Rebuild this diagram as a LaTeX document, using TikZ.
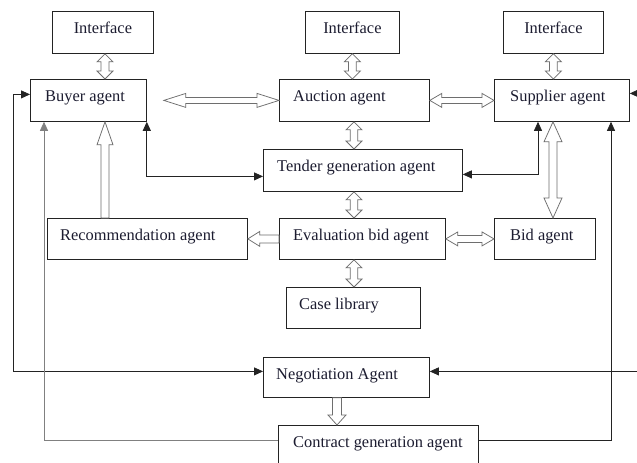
\documentclass[tikz,border=0pt]{standalone}
\usepackage{fontspec}
\setmainfont{Liberation Serif}
\usetikzlibrary{calc,arrows.meta}
\definecolor{txt}{RGB}{28,28,48}
\definecolor{edge}{RGB}{35,35,35}
\definecolor{hedge}{RGB}{110,110,110}
\newcommand\hvdouble[5]{%
 \path[harrow] let \p1=(#1), \p2=(#2) in
 (\x1,\y1) -- (\x1+#4,\y1-#3) -- (\x1+#5,\y1-#3) -- (\x1+#5,\y2+#3) -- (\x1+#4,\y2+#3) -- (\x1,\y2)
 -- (\x1-#4,\y2+#3) -- (\x1-#5,\y2+#3) -- (\x1-#5,\y1-#3) -- (\x1-#4,\y1-#3) -- cycle;}
\newcommand\hhdouble[5]{%
 \path[harrow] let \p1=(#1), \p2=(#2) in
 (\x1,\y1) -- (\x1+#3,\y1+#4) -- (\x1+#3,\y1+#5) -- (\x2-#3,\y1+#5) -- (\x2-#3,\y1+#4) -- (\x2,\y1)
 -- (\x2-#3,\y1-#4) -- (\x2-#3,\y1-#5) -- (\x1+#3,\y1-#5) -- (\x1+#3,\y1-#4) -- cycle;}
\newcommand\hvup[5]{%
 \path[harrow] let \p1=(#1), \p2=(#2) in
 (\x2,\y2) -- (\x2+#4,\y2-#3) -- (\x2+#5,\y2-#3) -- (\x2+#5,\y1) -- (\x2-#5,\y1) -- (\x2-#5,\y2-#3) -- (\x2-#4,\y2-#3) -- cycle;}
\newcommand\hvdown[5]{%
 \path[harrow] let \p1=(#1), \p2=(#2) in
 (\x2,\y2) -- (\x2+#4,\y2+#3) -- (\x2+#5,\y2+#3) -- (\x2+#5,\y1) -- (\x2-#5,\y1) -- (\x2-#5,\y2+#3) -- (\x2-#4,\y2+#3) -- cycle;}
\newcommand\hhleft[5]{%
 \path[harrow] let \p1=(#1), \p2=(#2) in
 (\x2,\y2) -- (\x2+#3,\y2+#4) -- (\x2+#3,\y2+#5) -- (\x1,\y2+#5) -- (\x1,\y2-#5) -- (\x2+#3,\y2-#5) -- (\x2+#3,\y2-#4) -- cycle;}
\tikzset{
 box/.style={draw=edge, line width=0.8pt, inner sep=0pt, anchor=north west, fill=white},
 lbl/.style={text=txt, inner sep=0pt, font=\fontsize{16.4}{19}\selectfont},
 harrow/.style={draw=hedge, fill=white, line width=0.75pt, line join=miter},
 conn/.style={draw=edge, line width=0.8pt, >={Triangle[length=9pt,width=8pt]}},
 connl/.style={draw=gray, line width=0.8pt, >={Triangle[length=9pt,width=8pt]}}
}
\begin{document}
\begin{tikzpicture}[x=1pt,y=-1pt]
\clip (0,0) rectangle (637,463);
\fill[white] (0,0) rectangle (637,463);
% boxes
\node[box, minimum width=101pt, minimum height=42pt] (if1) at (52,11) {};
\node[box, minimum width=94pt, minimum height=42pt] (if2) at (305,11) {};
\node[box, minimum width=100pt, minimum height=42pt] (if3) at (503,11) {};
\node[box, minimum width=116pt, minimum height=42pt] (buyer) at (30,79) {};
\node[box, minimum width=150pt, minimum height=42pt] (auction) at (279,79) {};
\node[box, minimum width=135pt, minimum height=42pt] (sup) at (494,79) {};
\node[box, minimum width=199pt, minimum height=42pt] (tender) at (263,149) {};
\node[box, minimum width=166pt, minimum height=41pt] (eval) at (279,218) {};
\node[box, minimum width=200pt, minimum height=41pt] (rec) at (47,218) {};
\node[box, minimum width=101pt, minimum height=41pt] (bid) at (494,218) {};
\node[box, minimum width=134pt, minimum height=41pt] (case) at (286,287) {};
\node[box, minimum width=166pt, minimum height=40pt] (neg) at (263,357) {};
\node[box, minimum width=200pt, minimum height=45pt] (contract) at (278,425) {};
% labels
\node[lbl, anchor=base] (if1t) at ($(if1.north)+(0,22)$) {Interface};
\node[lbl, anchor=base] (if2t) at ($(if2.north)+(0,22)$) {Interface};
\node[lbl, anchor=base] (if3t) at ($(if3.north)+(0,22)$) {Interface};
\node[lbl, anchor=base west] (buyert) at ($(buyer.north west)+(15,22.5)$) {Buyer agent};
\node[lbl, anchor=base west] (auctiont) at ($(auction.north west)+(14,22.5)$) {Auction agent};
\node[lbl, anchor=base west] (supt) at ($(sup.north west)+(16,22.5)$) {Supplier agent};
\node[lbl, anchor=base west] (tendert) at ($(tender.north west)+(14,22.5)$) {Tender generation agent};
\node[lbl, anchor=base west] (evalt) at ($(eval.north west)+(14,22.5)$) {Evaluation bid agent};
\node[lbl, anchor=base west] (rect) at ($(rec.north west)+(13,22.5)$) {Recommendation agent};
\node[lbl, anchor=base west] (bidt) at ($(bid.north west)+(16,22.5)$) {Bid agent};
\node[lbl, anchor=base west] (caset) at ($(case.north west)+(13,22.5)$) {Case library};
\node[lbl, anchor=base west] (negt) at ($(neg.north west)+(13,22.5)$) {Negotiation Agent};
\node[lbl, anchor=base west] (contractt) at ($(contract.north west)+(15,22)$) {Contract generation agent};
% anchor points of hollow arrows
\coordinate (a1t) at ($(if1.south west)+(53,0)$);
\coordinate (a1b) at (a1t |- buyer.north);
\coordinate (a2t) at (if2.south);
\coordinate (a2b) at (a2t |- auction.north);
\coordinate (a3t) at (if3.south);
\coordinate (a3b) at (a3t |- sup.north);
\coordinate (c1) at ($(auction.south west)+(75,0)$);
\coordinate (c2) at (c1 |- tender.north);
\coordinate (c3) at (c1 |- tender.south);
\coordinate (c4) at (c1 |- eval.north);
\coordinate (c5) at (c1 |- eval.south);
\coordinate (c6) at (c1 |- case.north);
\coordinate (ba) at ($(buyer.east)+(17,0)$);
\coordinate (r1) at ($(rec.north west)+(58,0)$);
\coordinate (r2) at (r1 |- buyer.south);
\coordinate (s1) at ($(sup.south west)+(59,0)$);
\coordinate (s2) at (s1 |- bid.north);
\coordinate (n1) at ($(neg.south west)+(74,0)$);
\coordinate (n2) at (n1 |- contract.north);
% hollow arrows
\hvdouble{a1t}{a1b}{8pt}{8pt}{4pt}
\hvdouble{a2t}{a2b}{8pt}{8pt}{3.8pt}
\hvdouble{a3t}{a3b}{8pt}{8pt}{3.8pt}
\hvdouble{c1}{c2}{8pt}{8pt}{3.8pt}
\hvdouble{c3}{c4}{8pt}{8pt}{3.8pt}
\hvdouble{c5}{c6}{8pt}{8pt}{3.8pt}
\hhdouble{ba}{auction.west}{22pt}{7pt}{3pt}
\hhdouble{auction.east}{sup.west}{12pt}{7pt}{3pt}
\hhdouble{eval.east}{bid.west}{12pt}{7pt}{3.5pt}
\hhleft{eval.west}{rec.east}{12pt}{7.5pt}{4pt}
\hvup{r1}{r2}{23pt}{8pt}{4pt}
\hvdouble{s1}{s2}{20pt}{9pt}{4pt}
\hvdown{n1}{n2}{10pt}{9pt}{4.5pt}
% black connectors
\draw[conn, <->] (buyer.south east) |- ($(tender.west)+(0,6)$);
\draw[conn, <->] ($(sup.south west)+(44,0)$) |- ($(tender.east)+(0,4)$);
\draw[conn, <->] ($(buyer.west)+(0,-6)$) -- ++(-17,0) |- ($(neg.west)+(0,-6)$);
\draw[connl, <-] ($(buyer.south west)+(14,0)$) |- ($(contract.west)+(0,-8)$);
\draw[conn, <-] ($(sup.south west)+(117,0)$) |- ($(contract.east)+(0,-8)$);
\coordinate (rsup) at ($(sup.east)+(20,-7)$);
\coordinate (rneg) at ($(neg.east)+(220,-6)$);
\draw[conn, ->] (rsup) -- ($(sup.east)+(0,-7)$);
\draw[conn, ->] (rneg) -- ($(neg.east)+(0,-6)$);
\end{tikzpicture}
\end{document}
